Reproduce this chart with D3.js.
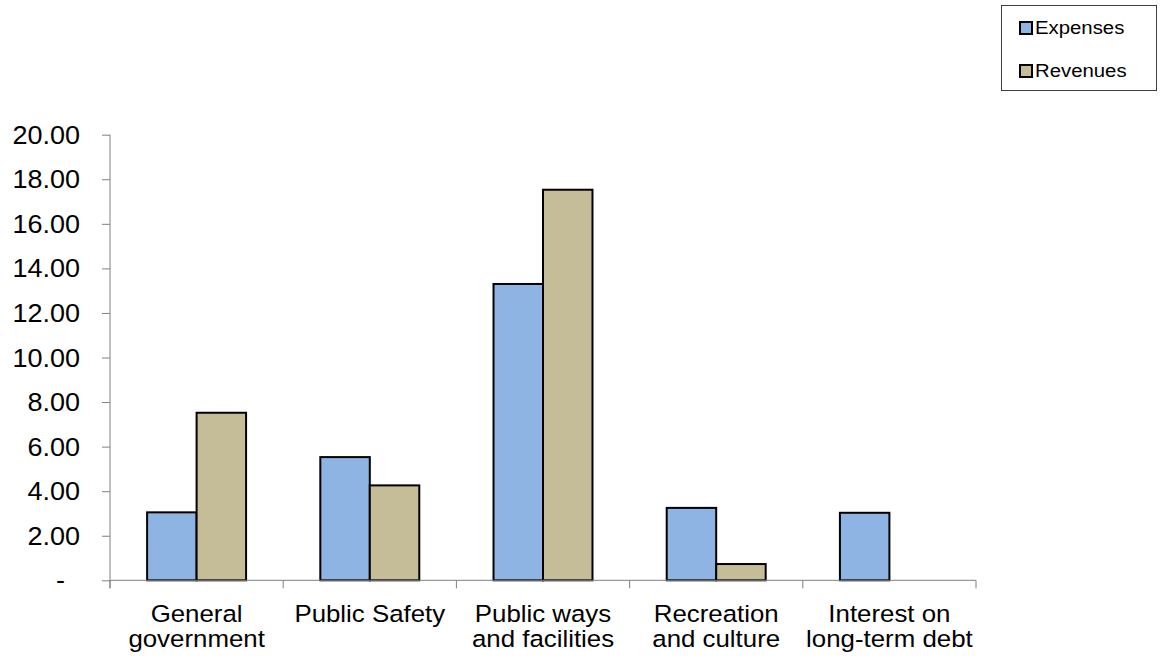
<!DOCTYPE html>
<html>
<head>
<meta charset="utf-8">
<script src="https://cdn.jsdelivr.net/npm/d3@7"></script>
<style>
  html, body { margin: 0; padding: 0; background: #fff; }
  svg { display: block; font-family: "Liberation Sans", Arial, sans-serif; }
</style>
</head>
<body>
<svg id="chart" width="1161" height="659"></svg>
<script>
const categories = ["General\ngovernment", "Public Safety", "Public ways\nand facilities", "Recreation\nand culture", "Interest on\nlong-term debt"];
const seriesNames = ["Expenses", "Revenues"];
const expenses = [3.05, 5.53, 13.30, 3.25, 3.03];
const revenues = [7.52, 4.26, 17.53, 0.73, 0];
const yTicks = [0, 2, 4, 6, 8, 10, 12, 14, 16, 18, 20];
const colors = ["#8EB4E3", "#C4BD97"];

const svg = d3.select("#chart");
const pLeft = 110, pRight = 976, pTop = 134.7, pBottom = 580.3;

const x0 = d3.scaleBand().domain(categories).range([pLeft, pRight])
  .paddingInner(1.5 / 3.5).paddingOuter(0.75 / 3.5);
const x1 = d3.scaleBand().domain(seriesNames).range([0, x0.bandwidth()]);
const y = d3.scaleLinear().domain([0, 20]).range([pBottom, pTop]);

const values = [expenses, revenues];

// helper: text slightly widened horizontally like the reference rendering
function label(g, x, yy, str, size, anchor, sx) {
  return g.append("text")
    .attr("transform", `translate(${x},${yy}) scale(${sx},1)`)
    .attr("text-anchor", anchor).attr("font-size", size).attr("fill", "#000").text(str);
}

// Y axis
const yAxis = svg.append("g").attr("transform", `translate(${pLeft},0)`)
  .call(d3.axisLeft(y).tickValues(yTicks).tickSize(8).tickFormat(""));
yAxis.select(".domain").attr("stroke", "#808080").attr("d", `M0,${pTop}V${pBottom + 8}`);
yAxis.selectAll(".tick line").attr("stroke", "#808080");
yTicks.forEach(t => {
  const s = t === 0 ? "-" : d3.format(".2f")(t);
  label(svg, t === 0 ? 65 : 80, y(t) + 9, s, 25, "end", 1.08);
});

// Bars
categories.forEach((c, i) => {
  seriesNames.forEach((s, j) => {
    const v = values[j][i];
    if (v <= 0) return;
    svg.append("rect")
      .attr("x", x0(c) + x1(s))
      .attr("y", y(v))
      .attr("width", x1.bandwidth())
      .attr("height", y(0) - y(v))
      .attr("fill", colors[j])
      .attr("stroke", "#000")
      .attr("stroke-width", 2);
  });
});

// X axis
const step = x0.step();
svg.append("line").attr("x1", pLeft).attr("x2", pRight).attr("y1", pBottom).attr("y2", pBottom)
  .attr("stroke", "#808080");
d3.range(categories.length + 1).forEach(i => {
  const xx = pLeft + i * step;
  svg.append("line").attr("x1", xx).attr("x2", xx).attr("y1", pBottom).attr("y2", pBottom + 8)
    .attr("stroke", "#808080");
});
categories.forEach(c => {
  const cx = x0(c) + x0.bandwidth() / 2;
  c.split("\n").forEach((l, k) => {
    label(svg, cx, 621.5 + k * 25, l, 23.5, "middle", 1.1);
  });
});

// Legend
svg.append("rect").attr("x", 1001.5).attr("y", 5.5).attr("width", 155).attr("height", 85)
  .attr("fill", "#fff").attr("stroke", "#404040").attr("stroke-width", 1);
seriesNames.forEach((s, j) => {
  const yy = 22 + j * 43;
  svg.append("rect").attr("x", 1020).attr("y", yy).attr("width", 12).attr("height", 12)
    .attr("fill", colors[j]).attr("stroke", "#000").attr("stroke-width", 2);
  label(svg, 1035, yy + 12.3, s, 18.5, "start", 1.1);
});
</script>
</body>
</html>
